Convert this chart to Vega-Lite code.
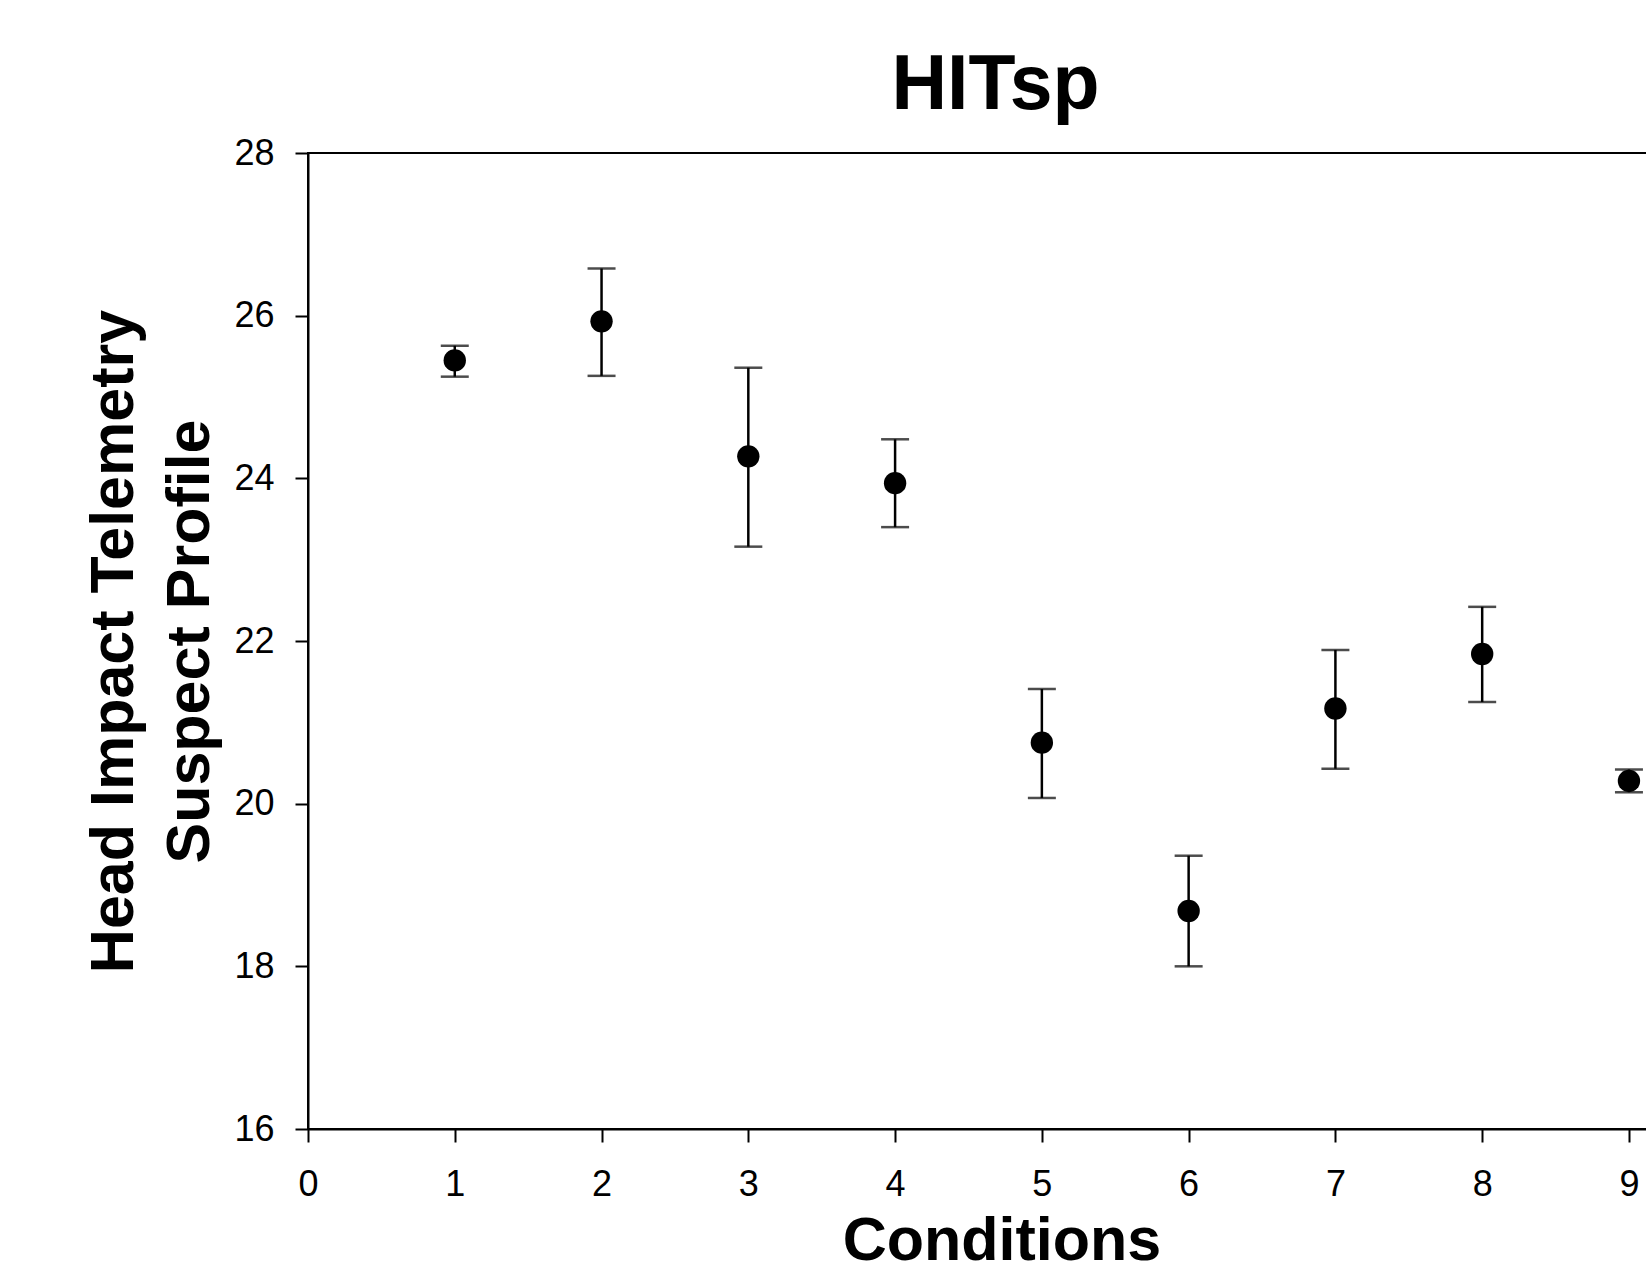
{
  "$schema": "https://vega.github.io/schema/vega-lite/v6.json",
  "autosize": {"type": "none"},
  "padding": {"left": 308, "top": 153, "right": 0, "bottom": 141},
  "width": 1387,
  "height": 976,
  "background": "white",
  "title": {
    "text": "HITsp",
    "font": "Liberation Sans",
    "fontSize": 77,
    "fontWeight": "bold",
    "color": "black",
    "anchor": "middle",
    "frame": "group",
    "baseline": "alphabetic",
    "offset": -51,
    "dx": -6
  },
  "config": {
    "view": {"stroke": "black", "strokeWidth": 2},
    "axis": {
      "grid": false,
      "domainColor": "black",
      "domainWidth": 2,
      "tickColor": "black",
      "tickWidth": 2,
      "tickSize": 13,
      "labelFont": "Liberation Sans",
      "labelFontSize": 36,
      "labelColor": "black",
      "titleFont": "Liberation Sans",
      "titleFontSize": 61,
      "titleFontWeight": "bold",
      "titleColor": "black"
    }
  },
  "data": {
    "values": [
      {"condition": 1, "mean": 25.45, "lower": 25.25, "upper": 25.63},
      {"condition": 2, "mean": 25.93, "lower": 25.26, "upper": 26.58},
      {"condition": 3, "mean": 24.27, "lower": 23.16, "upper": 25.36},
      {"condition": 4, "mean": 23.94, "lower": 23.40, "upper": 24.48},
      {"condition": 5, "mean": 20.75, "lower": 20.07, "upper": 21.41},
      {"condition": 6, "mean": 18.68, "lower": 18.00, "upper": 19.36},
      {"condition": 7, "mean": 21.17, "lower": 20.43, "upper": 21.89},
      {"condition": 8, "mean": 21.84, "lower": 21.25, "upper": 22.42},
      {"condition": 9, "mean": 20.28, "lower": 20.14, "upper": 20.42}
    ]
  },
  "encoding": {
    "x": {
      "field": "condition",
      "type": "quantitative",
      "scale": {"domain": [0, 9.45], "nice": false, "zero": false},
      "axis": {
        "title": "Conditions",
        "values": [0, 1, 2, 3, 4, 5, 6, 7, 8, 9],
        "format": "d",
        "labelPadding": 25,
        "titlePadding": 9,
        "labelFlush": false,
        "labelOverlap": false
      }
    }
  },
  "layer": [
    {
      "mark": {"type": "rule", "color": "black", "strokeWidth": 2.5},
      "encoding": {
        "y": {
          "field": "lower",
          "type": "quantitative",
          "scale": {"domain": [16, 28], "nice": false, "zero": false},
          "axis": {
            "title": ["Head Impact Telemetry", "Suspect Profile"],
            "values": [16, 18, 20, 22, 24, 26, 28],
            "format": "d",
            "labelPadding": 21,
            "titlePadding": 12,
            "titleLineHeight": 76,
            "labelFlush": false,
            "labelOverlap": false
          }
        },
        "y2": {"field": "upper"}
      }
    },
    {
      "mark": {"type": "tick", "orient": "horizontal", "color": "black", "size": 28, "thickness": 2.5},
      "encoding": {"y": {"field": "lower", "type": "quantitative"}}
    },
    {
      "mark": {"type": "tick", "orient": "horizontal", "color": "black", "size": 28, "thickness": 2.5},
      "encoding": {"y": {"field": "upper", "type": "quantitative"}}
    },
    {
      "mark": {"type": "point", "shape": "circle", "filled": true, "color": "black", "opacity": 1, "size": 500},
      "encoding": {"y": {"field": "mean", "type": "quantitative"}}
    }
  ]
}
